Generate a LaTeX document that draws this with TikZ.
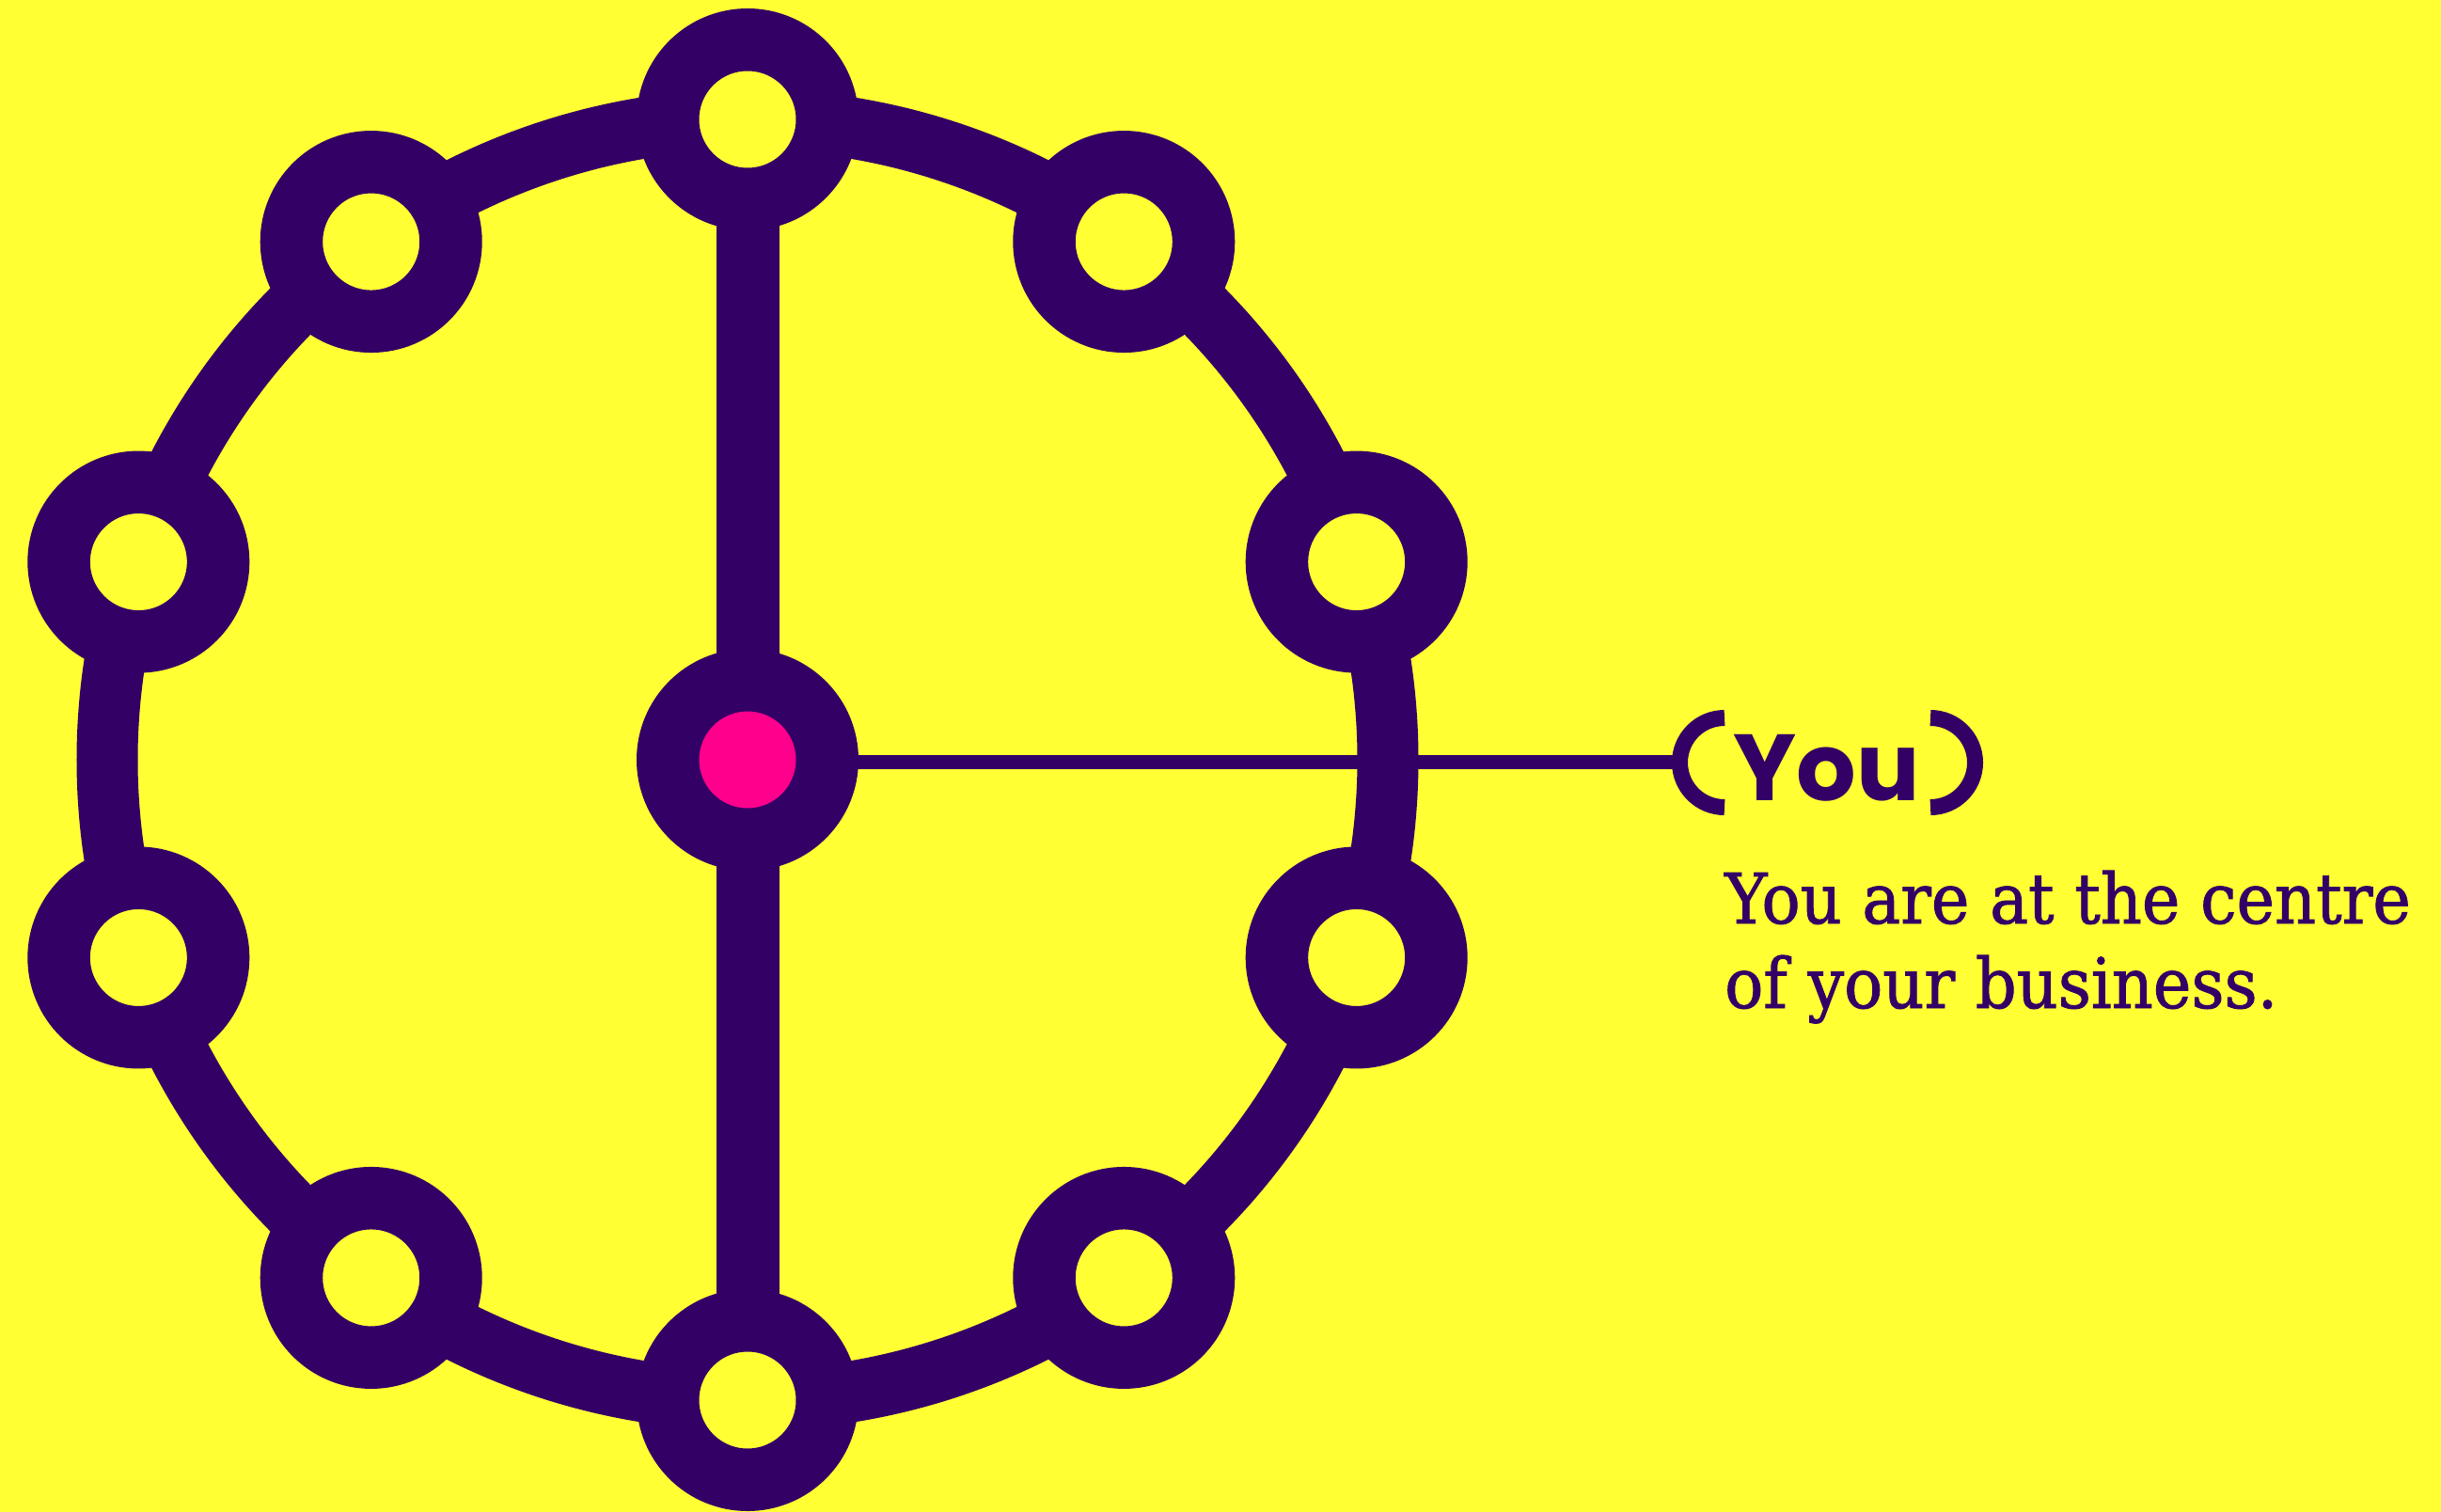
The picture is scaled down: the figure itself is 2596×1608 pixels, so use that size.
\documentclass[tikz,border=0pt]{standalone}
\usepackage{fontspec}
\newfontfamily\youfont{Poppins}
\newfontfamily\descfont{DejaVu Serif}[FakeStretch=0.925,FakeBold=1.2]
\usetikzlibrary{backgrounds}
\definecolor{sun}{HTML}{FFFF33}
\definecolor{ink}{HTML}{330066}
\definecolor{hot}{HTML}{FF008C}
\begin{document}
\begin{tikzpicture}[x=1pt,y=-1pt,
  stop/.style={circle, draw=ink, line width=66.5pt, minimum size=169.5pt, inner sep=0pt, fill=sun},
  ring/.style={draw=ink, line width=65pt},
  spoke/.style={draw=ink, line width=67pt},
  lead/.style={draw=ink, line width=15pt},
  brk/.style={draw=ink, line width=17pt}]
\useasboundingbox (0,0) rectangle (2596,1608);
\node[stop, fill=hot] (hub) at (795,808) {};
\foreach \k in {0,...,9} \path (hub) ++({90+36*\k}:681pt) node[stop] (n\k) {};
\coordinate (lbc) at (1834,811);
\coordinate (rbc) at (2053,811);
\coordinate (leadend) at (1787,810);
\node[anchor=base west, text=ink, inner sep=0pt, font=\youfont\bfseries\fontsize{100}{100}\selectfont] (you) at (1843,851) {You};
% base anchor of a two-line node is the baseline of its last line
\node[anchor=base west, text=ink, inner sep=0pt, align=left, font=\descfont\fontsize{74}{90}\selectfont] (desc) at (1834,1072) {You are at the centre\\of your business.};
\begin{pgfonlayer}{background}
\fill[sun] (0,0) rectangle (2596,1608);
\foreach \k [evaluate=\k as \a using 90+36*\k] in {0,...,9}
  \draw[ring] (n\k.center) arc[start angle=\a, delta angle=36, radius=681pt];
\draw[spoke] (n0.center) -- (n5.center);
\draw[lead] (hub.center |- leadend) -- (leadend);
\draw[brk] (lbc) ++(0,-47.5) arc[start angle=90, end angle=270, radius=47.5pt];
\draw[brk] (rbc) ++(0,47.5) arc[start angle=-90, end angle=90, radius=47.5pt];
\end{pgfonlayer}
\end{tikzpicture}
\end{document}
